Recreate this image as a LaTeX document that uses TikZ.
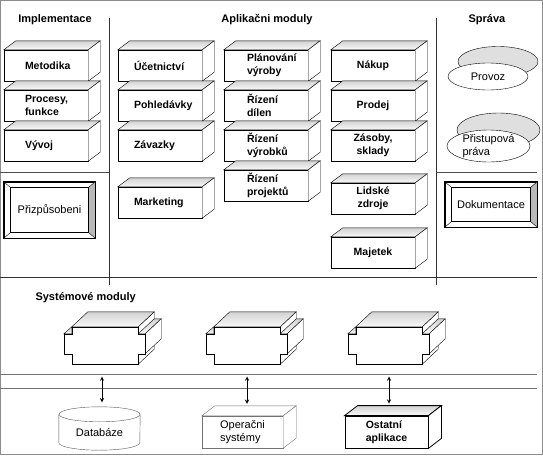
\documentclass[tikz,border=0pt]{standalone}
\usepackage{fontspec}
\setmainfont{Liberation Sans}
\usetikzlibrary{
	arrows,
	shapes.geometric,
	calc
}

\begin{document}
\begin{tikzpicture}[
    x=1pt, y=-1pt,
    box/.style = { draw,fill=white,minimum width=+84pt,minimum height=+31pt,inner sep=0pt,align=left,text width=#1,font=\bfseries\fontsize{10.5}{13}\selectfont },
    box/.default = 52pt,
    lowbox/.style = { draw,fill=white,minimum width=+82pt,minimum height=+32pt,inner sep=0pt,align=left,font=\fontsize{11}{13}\selectfont },
    bevelbox/.style = { draw,thick,fill=white,inner sep=0pt,font=\fontsize{11}{13}\selectfont },
    disc/.style = { ellipse,draw,fill=white,inner sep=-3pt,align=left,font=\fontsize{11}{13}\selectfont },
    module/.style = { minimum width=+66pt,minimum height=+37pt,inner sep=0pt },
    heading/.style = { font=\bfseries\fontsize{11}{13}\selectfont },
    topface/.style = { draw,top color=gray!35,bottom color=gray!5 },
    sideface/.style = { draw,fill=white },
    divider/.style = { draw=black!80,line width=0.9pt },
    bus/.style = { draw=black!55,line width=0.8pt },
    arrowstyle/.style = { <->,>=stealth,line width=0.9pt,shorten >=12pt }
    ]
    \useasboundingbox (0,0) rectangle (543,455);
    % Definitions
    \coordinate (met)  at ( 46, 65.5);
    \coordinate (pro)  at ( 46,105.5);
    \coordinate (vyv)  at ( 46,145.5);
    \coordinate (uce)  at (160, 65.5);
    \coordinate (poh)  at (160,105.5);
    \coordinate (zav)  at (160,145.5);
    \coordinate (mkt)  at (160,202.5);
    \coordinate (pla)  at (266, 65.5);
    \coordinate (dil)  at (266,105.5);
    \coordinate (vyr)  at (266,145.5);
    \coordinate (prj)  at (266,185.5);
    \coordinate (nak)  at (373, 65.5);
    \coordinate (prd)  at (373,105.5);
    \coordinate (zas)  at (373,145.5);
    \coordinate (lid)  at (373,198.5);
    \coordinate (maj)  at (373,252.5);
    \coordinate (prz)  at (49.5,210);
    \coordinate (dok)  at (491,204.5);
    \coordinate (prov) at (488, 76.5);
    \coordinate (pris) at (488.5,146);
    \coordinate (sm1)  at (105,345.5);
    \coordinate (sm2)  at (247,345.5);
    \coordinate (sm3)  at (389,345.5);
    \coordinate (dtb)  at (99.5,432.25);
    \coordinate (ops)  at (242.5,432);
    \coordinate (ost)  at (386.5,432);
    \coordinate (a1)   at (102,376.5);
    \coordinate (a2)   at (247,376.5);
    \coordinate (a3)   at (389,376.5);
    % Frame and dividers
    \draw[black!45] (0.5,0.5) rectangle (542.5,454.5);
    \draw[divider] (109,18) -- (109,285);
    \draw[divider] (436,18) -- (436,285);
    \draw[divider] (0,277) -- (537,277);
    \draw[black!70] (0,172) -- (109,172);
    \draw[black!70] (436,172) -- (537,172);
    \draw[bus] (0,374.5) -- (537,374.5);
    \draw[bus] (0,388.5) -- (537,388.5);
    % Discs behind
    \draw[fill=gray!25] ($(prov)+(10,-15)$) ellipse [x radius=40, y radius=15];
    \draw[fill=gray!25] ($(pris)+(10,-16)$) ellipse [x radius=41.5, y radius=17];
    % Nodes
    \node[heading] (H1) at (55,20)  {Implementace};
    \node[heading] (H2) at (267,20) {Aplikačni moduly};
    \node[heading] (H3) at (487,20) {Správa};
    \node[heading,anchor=west] (H4) at (32,298) {Systémové moduly};
    \node(ME) at (met)  [box=42pt]              {Metodika};
    \node(PF) at (pro)  [box=42pt]              {Procesy,\\funkce};
    \node(VY) at (vyv)  [box=42pt]              {Vývoj};
    \node(UC) at (uce)  [box]                   {Účetnictví};
    \node(PO) at (poh)  [box]                   {Pohledávky};
    \node(ZA) at (zav)  [box]                   {Závazky};
    \node(MK) at (mkt)  [box]                   {Marketing};
    \node(PL) at (pla)  [box=38pt]              {Plánování\\výroby};
    \node(RD) at (dil)  [box=38pt]              {Řízení\\dílen};
    \node(RV) at (vyr)  [box=38pt]              {Řízení\\výrobků};
    \node(RP) at (prj)  [box=38pt]              {Řízení\\projektů};
    \node(NA) at (nak)  [box=70pt,align=center] {Nákup};
    \node(PR) at (prd)  [box=70pt,align=center] {Prodej};
    \node(ZS) at (zas)  [box=70pt,align=center] {Zásoby,\\sklady};
    \node(LZ) at (lid)  [box=70pt,align=center] {Lidské\\zdroje};
    \node(MA) at (maj)  [box=70pt,align=center] {Majetek};
    \node(PZ) at (prz)  [bevelbox,minimum width=91pt,minimum height=56pt] {Přizpůsobeni};
    \node(DK) at (dok)  [bevelbox,minimum width=92pt,minimum height=45pt] {Dokumentace};
    \node(PV) at (prov) [disc,minimum width=80pt,minimum height=27pt] {Provoz};
    \node(PP) at (pris) [disc,minimum width=83pt,minimum height=32pt] {Přistupová\\práva};
    \node(S1) at (sm1)  [module] {};
    \node(S2) at (sm2)  [module] {};
    \node(S3) at (sm3)  [module] {};
    \node(DB) at (dtb)  [lowbox,draw=none,minimum width=81pt,minimum height=35.5pt] {Databáze};
    \node(OS) at (ops)  [lowbox,draw=black!55,minimum width=81pt] {Operačni\\systémy};
    \node(OA) at (ost)  [lowbox,thick,minimum width=83pt,font=\bfseries\fontsize{10.5}{13}\selectfont] {Ostatní\\aplikace};
    % Faces
    \foreach \b in {ME,PF,VY,UC,PO,ZA,MK,PL,RD,RV,RP,NA,PR,ZS,LZ,MA} {
        \draw[topface] (\b.north west) -- ++(12,-9) -- ([shift={(12,-9)}]\b.north east) -- (\b.north east) -- cycle;
        \draw[sideface] (\b.north east) -- ++(12,-9) -- ([shift={(12,-9)}]\b.south east) -- (\b.south east) -- cycle;
    }
    \draw[draw=black!55,fill=white] (OS.north west) -- ++(13,-10) -- ([shift={(13,-10)}]OS.north east) -- (OS.north east) -- cycle;
    \draw[draw=black!55,fill=white] (OS.north east) -- ++(13,-10) -- ([shift={(13,-10)}]OS.south east) -- (OS.south east) -- cycle;
    \draw[topface,thick] (OA.north west) -- ++(13,-10) -- ([shift={(13,-10)}]OA.north east) -- (OA.north east) -- cycle;
    \draw[sideface,thick] (OA.north east) -- ++(13,-10) -- ([shift={(13,-10)}]OA.south east) -- (OA.south east) -- cycle;
    \foreach \m in {S1,S2,S3} {
        \draw[topface] (\m.north west) -- ++(0,7) -- ++(-8,0) -- cycle;
        \draw[sideface] (\m.north east) -- ++(16,-15) -- ([shift={(16,-15)}]\m.south east) -- (\m.south east) -- cycle;
        \draw[topface] (\m.north west) -- ++(16,-15) -- ([shift={(16,-15)}]\m.north east) -- (\m.north east) -- cycle;
        \draw[topface] ([shift={(0,7)}]\m.north east) -- ++(7,0) -- ++(16,-15) -- ++(-7,0) -- cycle;
        \draw[sideface] ([shift={(7,7)}]\m.north east) -- ++(16,-15) -- ++(0,20) -- ++(-16,15) -- cycle;
        \draw[sideface] (\m.north west) -- (\m.north east) -- ++(0,7) -- ++(7,0) -- ++(0,20) -- ++(-7,0) -- (\m.south east) -- (\m.south west) -- ++(0,-10) -- ++(-8,0) -- ++(0,-20) -- ++(8,0) -- cycle;
    }
    \foreach \b in {PZ,DK} {
        \fill[gray!55] ([shift={(-7,6)}]\b.north east) -- (\b.north east) -- (\b.south east) -- ([shift={(-7,-6)}]\b.south east) -- cycle;
        \draw ([shift={(7,6)}]\b.north west) rectangle ([shift={(-7,-6)}]\b.south east);
        \draw (\b.north west) -- ++(7,6) (\b.north east) -- ++(-7,6) (\b.south west) -- ++(7,-6) (\b.south east) -- ++(-7,-6);
        \draw[thick] (\b.north west) rectangle (\b.south east);
    }
    \draw[black!65] (DB.north west) -- ([yshift=7.5pt]DB.south west) arc [start angle=180, end angle=0, x radius=40.5, y radius=7.5] -- (DB.north east);
    \draw[black!65] (DB.north) ellipse [x radius=40.5, y radius=7.5];
    % Arrows
    \draw[arrowstyle] (a1) -- (a1 |- DB.north);
    \draw[arrowstyle] (a2) -- (a2 |- OS.north);
    \draw[arrowstyle] (a3) -- (a3 |- OA.north);
\end{tikzpicture}
\end{document}
